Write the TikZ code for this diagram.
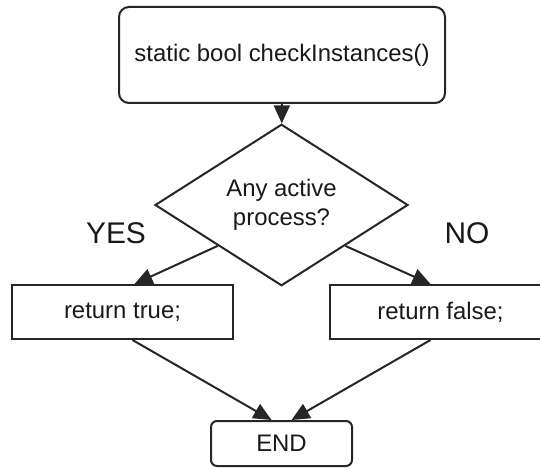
\documentclass[tikz,border=0pt]{standalone}
\usepackage{fontspec}
\setmainfont{Liberation Sans}
\usetikzlibrary{shapes.geometric,arrows.meta}
\begin{document}
\begin{tikzpicture}[x=1bp,y=-1bp,
  every node/.style={font=\fontsize{24}{29}\selectfont, text=black!90},
  box/.style={draw=black!85, line width=2bp, fill=white, inner sep=0pt, align=center},
  term/.style={box, rounded corners=#1},
  proc/.style={box, minimum width=221bp, minimum height=54bp},
  decision/.style={box, diamond, minimum width=253bp, minimum height=120bp},
  lbl/.style={font=\fontsize{30}{34}\selectfont, inner sep=0pt},
  flow/.style={draw=black!85, line width=2bp, -{Triangle[length=18bp,width=16bp]}}
]
\clip (0,0) rectangle (540,469);

% nodes
\node[term=10bp, minimum width=326bp, minimum height=96bp] (start) at (282,55) {static bool checkInstances()};
\node[decision] (dec) at (281.5,205) {Any active\\process?};
\node[proc] (yes) at (122.5,312) {return true;};
\node[proc] (no) at (440.5,312) {return false;};
\node[term=6bp, minimum width=141bp, minimum height=45bp] (end) at (281.5,443.5) {END};

% branch labels
\node[lbl] (yeslbl) at (116,233) {YES};
\node[lbl] (nolbl) at (467,233) {NO};

% connectors
\draw[flow] (start) -- (dec);
\draw[flow] (dec.south west) -- ([xshift=12bp]yes.north);
\draw[flow] (dec.south east) -- ([xshift=-10bp]no.north);
\draw[flow] ([xshift=10bp]yes.south) -- ([xshift=-10bp]end.north);
\draw[flow] ([xshift=-10bp]no.south) -- ([xshift=10bp]end.north);
\end{tikzpicture}
\end{document}
